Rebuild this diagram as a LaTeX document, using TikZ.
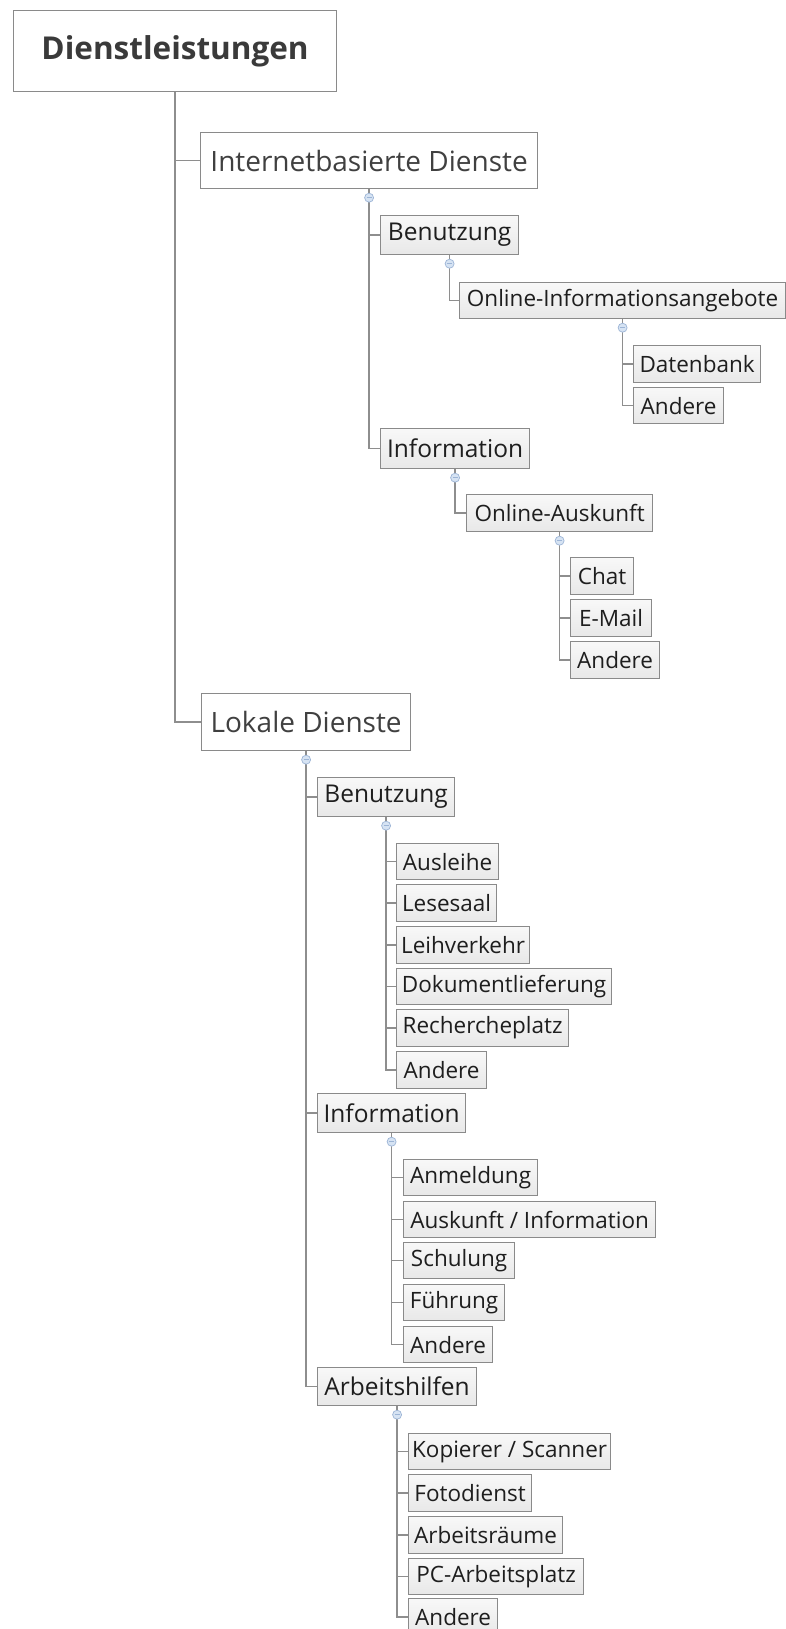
\documentclass[tikz,border=0pt]{standalone}
\usepackage{fontspec}
\setmainfont{Open Sans}
\definecolor{linegray}{HTML}{8E8E8E}
\definecolor{boxgray}{HTML}{8A8A8A}
\definecolor{rootink}{HTML}{3A3A3A}
\definecolor{topicink}{HTML}{404040}
\definecolor{leafink}{HTML}{1E1E1E}
\definecolor{filltop}{HTML}{F8F8F8}
\definecolor{fillbot}{HTML}{E8E8E8}
\definecolor{foldfill}{HTML}{D6E3F3}
\definecolor{foldedge}{HTML}{9DB5D6}
\begin{document}
\begin{tikzpicture}[x=1pt,y=-1pt,
  conn/.style={draw=linegray, line width=1.4pt},
  box/.style={draw=boxgray, line width=1.2pt, inner sep=0pt, anchor=north west},
  sz/.style 2 args={minimum width=#1pt, minimum height=#2pt},
  rootbox/.style={box, fill=white, text=rootink, font=\fontsize{31.5}{37}\selectfont\bfseries},
  topicbox/.style={box, fill=white, text=topicink, font=\fontsize{28}{33}\selectfont},
  subbox/.style={box, top color=filltop, bottom color=fillbot, text=leafink, font=\fontsize{24.5}{29}\selectfont},
  leafbox/.style={box, top color=filltop, bottom color=fillbot, text=leafink, font=\fontsize{22.5}{27}\selectfont},
  fold/.style={circle, draw=foldedge, fill=foldfill, inner sep=0pt, minimum size=9pt, line width=0.7pt,
    path picture={\draw[foldedge, line width=0.8pt]
      ([xshift=-2.5pt]path picture bounding box.center) -- ([xshift=2.5pt]path picture bounding box.center);}},
]
\clip (0,0) rectangle (786,1629);
\fill[white] (0,0) rectangle (786,1629);

% root
\node[rootbox, sz={323}{81}] (root) at (13,10) {Dienstleistungen};

% internet based services
\node[topicbox, sz={337}{56}] (ia) at (200,132) {Internetbasierte Dienste};
\node[subbox, sz={138}{39}] (ib) at (380,215) {Benutzung};
\node[leafbox, sz={326}{36}] (ioi) at (459,282) {Online-Informationsangebote};
\node[leafbox, sz={127}{37}] (idb) at (633,345) {Datenbank};
\node[leafbox, sz={90}{36}] (ian1) at (633,387) {Andere};
\node[subbox, sz={149}{40}] (iinf) at (380,428) {Information};
\node[leafbox, sz={186}{37}] (ioa) at (466,494) {Online-Auskunft};
\node[leafbox, sz={63}{37}] (ich) at (570,557) {Chat};
\node[leafbox, sz={81}{37}] (iem) at (570,599) {E-Mail};
\node[leafbox, sz={89}{37}] (ian2) at (570,641) {Andere};

% local services
\node[topicbox, sz={209}{57}] (lo) at (201,693) {Lokale Dienste};
\node[subbox, sz={137}{39}] (lb) at (317,777) {Benutzung};
\node[leafbox, sz={102}{36}] (lb1) at (396,843) {Ausleihe};
\node[leafbox, sz={100}{37}] (lb2) at (396,884) {Lesesaal};
\node[leafbox, sz={133}{37}] (lb3) at (396,926) {Leihverkehr};
\node[leafbox, sz={215}{36}] (lb4) at (396,968) {Dokumentlieferung};
\node[leafbox, sz={172}{37}] (lb5) at (396,1009) {Rechercheplatz};
\node[leafbox, sz={90}{37}] (lb6) at (396,1051) {Andere};

\node[subbox, sz={148}{39}] (li) at (317,1093) {Information};
\node[leafbox, sz={134}{36}] (li1) at (403,1159) {Anmeldung};
\node[leafbox, sz={252}{36}] (li2) at (403,1201) {Auskunft / Information};
\node[leafbox, sz={111}{36}] (li3) at (403,1242) {Schulung};
\node[leafbox, sz={101}{36}] (li4) at (403,1284) {Führung};
\node[leafbox, sz={89}{36}] (li5) at (403,1326) {Andere};

\node[subbox, sz={159}{38}] (la) at (317,1367) {Arbeitshilfen};
\node[leafbox, sz={202}{36}] (la1) at (408,1433) {Kopierer / Scanner};
\node[leafbox, sz={123}{37}] (la2) at (408,1474) {Fotodienst};
\node[leafbox, sz={154}{37}] (la3) at (408,1516) {Arbeitsräume};
\node[leafbox, sz={175}{36}] (la4) at (408,1558) {PC-Arbeitsplatz};
\node[leafbox, sz={89}{37}] (la5) at (408,1598) {Andere};

% connectors: from the bottom of each parent down and across to the child
\foreach \p/\c in {root/ia, root/lo,
                   ia/ib, ia/iinf, ib/ioi, ioi/idb, ioi/ian1,
                   iinf/ioa, ioa/ich, ioa/iem, ioa/ian2,
                   lo/lb, lo/li, lo/la,
                   lb/lb1, lb/lb2, lb/lb3, lb/lb4, lb/lb5, lb/lb6,
                   li/li1, li/li2, li/li3, li/li4, li/li5,
                   la/la1, la/la2, la/la3, la/la4, la/la5}
  \draw[conn] (\p.south) |- (\c.west);

% collapse markers below expanded topics
\foreach \p in {ia, ib, ioi, iinf, ioa, lo, lb, li, la}
  \node[fold] (f-\p) at ([yshift=-8.5pt]\p.south) {};
\end{tikzpicture}
\end{document}
